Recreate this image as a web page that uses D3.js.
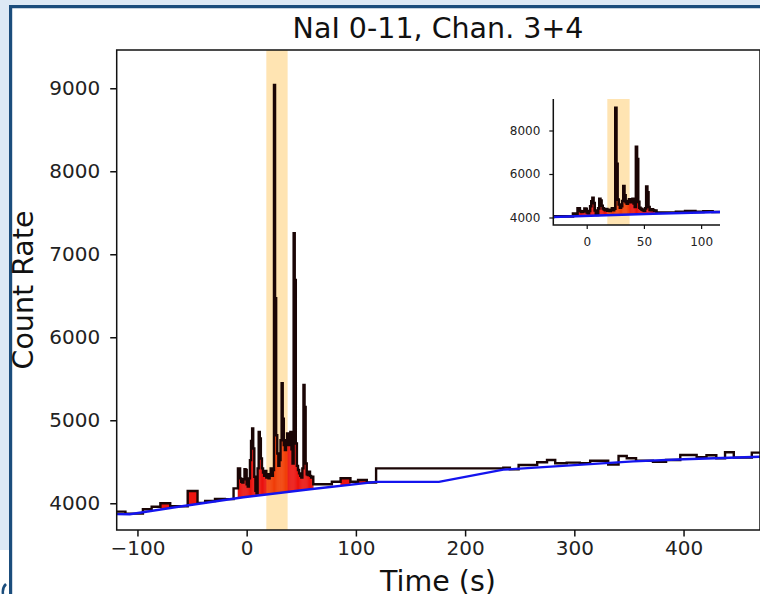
<!DOCTYPE html>
<html>
<head>
<meta charset="utf-8">
<script src="https://cdn.jsdelivr.net/npm/d3@7"></script>
<style>
body { margin: 0; background: #fff; }
</style>
</head>
<body>
<div id="chart"></div>
<script>
// light curve bins (start time, count rate)
var binStart = [-125, -111, -95, -87, -79, -70, -54, -45, -38, -29, -20, -12,
   -8, -7, -6, -5, -4, -3, -2, -1, 0, 1, 2, 3, 4, 5, 6, 7, 8, 9,
   10, 11, 12, 13, 14, 15, 16, 17, 18, 19, 20, 21, 22, 23, 24, 25, 26, 27, 28, 29,
   30, 31, 32, 33, 34, 35, 36, 37, 38, 39, 40, 41, 42, 43, 44, 45, 46, 47, 48, 49,
   50, 51, 52, 53, 54, 55, 56, 57, 58, 59, 60,
   61, 78, 86, 95, 102, 110, 118.5, 235, 241, 249, 266, 275, 282.5, 293, 305, 314.5,
   331, 340.5, 348, 356.5, 372, 384, 397, 412, 421, 430, 438, 446, 462.5];
var binRate = [3899, 3875, 3928, 3959, 4000, 3965, 4148, 4005, 4028, 4052, 4050, 4180,
   4420, 4420, 4300, 4260, 4250, 4290, 4410, 4400, 4230, 4200, 4300, 4520, 4750, 4900, 4660, 4320, 4150, 4120,
   4420, 4860, 4780, 4540, 4420, 4370, 4330, 4390, 4310, 4350, 4300, 4340, 4420, 4330, 4400, 9040, 6470, 4820, 4600, 4450,
   4520, 4760, 5446, 5020, 4700, 4640, 4760, 4840, 4700, 4800, 4860, 4650, 4480, 7253, 6690, 4720, 4450, 4400, 4360, 4330,
   4310, 4420, 5425, 5160, 4480, 4350, 4340, 4380, 4330, 4310, 4320,
   4229, 4260, 4301, 4260, 4281, 4250, 4421, 4429, 4409, 4461, 4494, 4522, 4482, 4490, 4482,
   4513, 4467, 4570, 4542, 4513, 4500, 4522, 4582, 4554, 4578, 4542, 4614, 4550, 4610];
var lastEdge = 480;

// background fit
var bkgTime = [-125, -107, -64, -3, 58, 118.5, 176, 235, 300, 354, 400, 470, 500];
var bkgRate = [3870, 3868, 3955, 4072, 4169, 4258, 4258, 4405, 4460, 4505, 4530, 4561, 4575];

// source intervals (red fill) and highlighted interval
var srcIntervals = [[-79, -70], [-54, -45], [-8, 61], [86, 95], [102, 110]];
var spanT = [18, 37.5];

var xTicks = [-100, 0, 100, 200, 300, 400];
var yTicks = [4000, 5000, 6000, 7000, 8000, 9000];
var insetXTicks = [0, 50, 100];
var insetYTicks = [4000, 6000, 8000];

var svgWidth = 760;
var svgHeight = 594;

var svg = d3.select("#chart")
   .append("svg")
   .attr("width", svgWidth)
   .attr("height", svgHeight)
   .style("font-family", "'DejaVu Sans', sans-serif");

// window frame behind the figure
svg.append("rect").attr("width", svgWidth).attr("height", svgHeight).attr("fill", "#fff");
svg.append("rect").attr("x", 0).attr("y", 0).attr("width", 10).attr("height", 550).attr("fill", "#dde9f5");
svg.append("rect").attr("x", 0).attr("y", 0).attr("width", svgWidth).attr("height", 6).attr("fill", "#dde9f5");
svg.append("line").attr("x1", 9).attr("x2", svgWidth).attr("y1", 6.7).attr("y2", 6.7)
   .attr("stroke", "#1b4d7c").attr("stroke-width", 3.2);
svg.append("line").attr("x1", 10.6).attr("x2", 10.6).attr("y1", 5).attr("y2", svgHeight)
   .attr("stroke", "#1b4d7c").attr("stroke-width", 3.2);
svg.append("path").attr("d", "M6,584 Q2,588 3,594").attr("fill", "none")
   .attr("stroke", "#1b4d7c").attr("stroke-width", 2.5);

var bkg = d3.scaleLinear().domain(bkgTime).range(bkgRate);

function fmt(d) {
   return d < 0 ? "\u2212" + Math.abs(d) : String(d);
}

// draws fill, span, light curve and background into a clipped group
function drawPanel(id, xs, ys, lw) {
   var x0 = xs.range()[0], x1 = xs.range()[1];
   var y0 = ys.range()[1], y1 = ys.range()[0];

   svg.append("clipPath").attr("id", id)
      .append("rect")
      .attr("x", x0).attr("y", y0)
      .attr("width", x1 - x0).attr("height", y1 - y0);

   var g = svg.append("g").attr("clip-path", "url(#" + id + ")");

   // red excess fill
   var polys = [];
   binStart.forEach(function (t0, i) {
      var t1 = i < binStart.length - 1 ? binStart[i + 1] : lastEdge;
      var mid = (t0 + t1) / 2;
      var inSrc = srcIntervals.some(function (s) { return mid > s[0] && mid < s[1]; });
      if (inSrc && binRate[i] > bkg(mid)) {
         polys.push([[t0, binRate[i]], [t1, binRate[i]], [t1, bkg(t1)], [t0, bkg(t0)]]);
      }
   });
   g.selectAll("path.src")
      .data(polys)
      .enter()
      .append("path")
      .attr("class", "src")
      .attr("d", function (d) {
         return "M" + d.map(function (p) { return xs(p[0]) + "," + ys(p[1]); }).join("L") + "Z";
      })
      .attr("fill", "#ec1410")
      .attr("stroke", "#ec1410")
      .attr("stroke-width", 0.4);

   // highlighted interval
   g.append("rect")
      .attr("x", xs(spanT[0]))
      .attr("y", y0)
      .attr("width", xs(spanT[1]) - xs(spanT[0]))
      .attr("height", y1 - y0)
      .attr("fill", "orange")
      .attr("opacity", 0.3);

   // step light curve
   var pts = binStart.map(function (t, i) { return [t, binRate[i]]; });
   pts.push([lastEdge, binRate[binRate.length - 1]]);
   var stepLine = d3.line()
      .x(function (d) { return xs(d[0]); })
      .y(function (d) { return ys(d[1]); })
      .curve(d3.curveStepAfter);
   g.append("path")
      .datum(pts)
      .attr("d", stepLine)
      .attr("fill", "none")
      .attr("stroke", "#1a0505")
      .attr("stroke-width", lw);

   // background
   var bpts = bkgTime.map(function (t, i) { return [t, bkgRate[i]]; });
   var bLine = d3.line()
      .x(function (d) { return xs(d[0]); })
      .y(function (d) { return ys(d[1]); });
   g.append("path")
      .datum(bpts)
      .attr("d", bLine)
      .attr("fill", "none")
      .attr("stroke", "#1414ee")
      .attr("stroke-width", lw);
}

// main axes
var x = d3.scaleLinear().domain([-119, 470]).range([116.7, 760]);
var y = d3.scaleLinear().domain([3678, 9461]).range([530, 50]);
drawPanel("clipMain", x, y, 2.4);

var xAxis = svg.append("g")
   .attr("transform", "translate(0,530)")
   .call(d3.axisBottom(x).tickValues(xTicks).tickSize(6.5).tickPadding(4).tickSizeOuter(0).tickFormat(fmt));
var yAxis = svg.append("g")
   .attr("transform", "translate(116.7,0)")
   .call(d3.axisLeft(y).tickValues(yTicks).tickSize(6.5).tickPadding(10).tickSizeOuter(0).tickFormat(fmt));
[xAxis, yAxis].forEach(function (a) {
   a.select(".domain").remove();
   a.selectAll("line").attr("stroke", "#111").attr("stroke-width", 1.5);
   a.selectAll("text").attr("font-size", 20).attr("fill", "#222").style("font-family", "'DejaVu Sans', sans-serif");
});

svg.append("rect")
   .attr("x", 116.7).attr("y", 50)
   .attr("width", 760 - 116.7).attr("height", 480)
   .attr("fill", "none").attr("stroke", "#111").attr("stroke-width", 1.5);

// inset axes
var xi = d3.scaleLinear().domain([-29.2, 116.5]).range([553.3, 720]);
var yi = d3.scaleLinear().domain([3655, 9448]).range([225, 99]);
drawPanel("clipInset", xi, yi, 2.6);

var xiAxis = svg.append("g")
   .attr("transform", "translate(0,225)")
   .call(d3.axisBottom(xi).tickValues(insetXTicks).tickSize(4).tickPadding(8).tickSizeOuter(0).tickFormat(fmt));
var yiAxis = svg.append("g")
   .attr("transform", "translate(553.3,0)")
   .call(d3.axisLeft(yi).tickValues(insetYTicks).tickSize(4).tickPadding(9).tickSizeOuter(0).tickFormat(fmt));
[xiAxis, yiAxis].forEach(function (a) {
   a.select(".domain").remove();
   a.selectAll("line").attr("stroke", "#111").attr("stroke-width", 1.2);
   a.selectAll("text").attr("font-size", 12).attr("fill", "#222").style("font-family", "'DejaVu Sans', sans-serif");
});
svg.append("path")
   .attr("d", "M553.3,99V225H720")
   .attr("fill", "none").attr("stroke", "#111").attr("stroke-width", 1.5);

// titles
svg.append("text")
   .attr("x", 438).attr("y", 38)
   .attr("text-anchor", "middle")
   .attr("font-size", 28.5)
   .attr("fill", "#111")
   .text("NaI 0-11, Chan. 3+4");

svg.append("text")
   .attr("transform", "translate(33,290) rotate(-90)")
   .attr("text-anchor", "middle")
   .attr("font-size", 28.5)
   .attr("fill", "#111")
   .text("Count Rate");

svg.append("text")
   .attr("x", 438).attr("y", 591)
   .attr("text-anchor", "middle")
   .attr("font-size", 28.5)
   .attr("fill", "#111")
   .text("Time (s)");
</script>
</body>
</html>
